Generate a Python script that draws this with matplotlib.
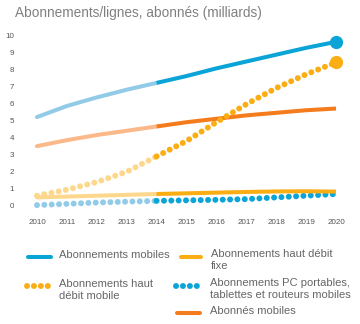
import matplotlib
matplotlib.use("Agg")
import matplotlib.pyplot as plt
from matplotlib.lines import Line2D

plt.rcParams['font.family'] = ['Liberation Sans', 'DejaVu Sans']

years = [2010, 2011, 2012, 2013, 2014, 2015, 2016, 2017, 2018, 2019, 2020]
mobile_subs = [5.2, 5.85, 6.35, 6.8, 7.2, 7.6, 8.05, 8.45, 8.85, 9.25, 9.6]
mobile_bb = [0.6, 0.95, 1.4, 2.0, 2.9, 3.8, 4.9, 5.95, 6.9, 7.7, 8.4]
subscribers = [3.5, 3.85, 4.15, 4.4, 4.65, 4.9, 5.1, 5.3, 5.45, 5.6, 5.7]
fixed_bb = [0.5, 0.55, 0.6, 0.65, 0.7, 0.74, 0.78, 0.82, 0.85, 0.86, 0.84]
pc_tablets = [0.05, 0.12, 0.2, 0.25, 0.3, 0.33, 0.36, 0.4, 0.5, 0.6, 0.7]

yticks = [0, 1, 2, 3, 4, 5, 6, 7, 8, 9, 10]
title = "Abonnements/lignes, abonnés (milliards)"
legend_labels = ["Abonnements mobiles", "Abonnements haut débit\nfixe",
                 "Abonnements haut\ndébit mobile",
                 "Abonnements PC portables,\ntablettes et routeurs mobiles",
                 "Abonnés mobiles"]

BLUE, BLUE_L = '#0aa4d6', '#92cbe8'
ORANGE, ORANGE_L = '#f47c1c', '#fbb98a'
YEL, YEL_L = '#fbad14', '#fdd88c'

W, H = 360, 324
fig = plt.figure(figsize=(W / 100, H / 100), dpi=100)
ax = fig.add_axes([31 / W, (H - 211.1) / H, 311 / W, 181.2 / H])
ax.set_xlim(2009.8, 2020.2)
ax.set_ylim(-0.3, 10.3)

split = years.index(2014)
solid_lw = 2.9
dot_lw = 4.3
dot_style = (0, (0.01, 1.22))

def seg(vals, c_l, c, dotted=False):
    kw = dict(solid_capstyle='round', dash_capstyle='round')
    if dotted:
        kw.update(linestyle=dot_style, lw=dot_lw)
    else:
        kw.update(lw=solid_lw)
    ax.plot(years[:split + 1], vals[:split + 1], color=c_l, **kw)
    kw2 = dict(kw)
    if not dotted:
        kw2['solid_capstyle'] = 'butt'
    ax.plot(years[split:], vals[split:], color=c, **kw2)

seg(pc_tablets, BLUE_L, BLUE, dotted=True)
seg(fixed_bb, YEL_L, YEL)
seg(subscribers, ORANGE_L, ORANGE)
seg(mobile_bb, YEL_L, YEL, dotted=True)
seg(mobile_subs, BLUE_L, BLUE)
ax.plot([years[-1]], [mobile_subs[-1]], 'o', color=BLUE, ms=8.5)
ax.plot([years[-1]], [mobile_bb[-1]], 'o', color=YEL, ms=8.5)

for s in ax.spines.values():
    s.set_visible(False)
ax.set_xticks(years)
ax.set_xticklabels([str(y) for y in years])
ax.set_yticks(yticks)
ax.tick_params(length=0, labelsize=5.8, colors='#555555', pad=6)
ax.tick_params(axis='y', pad=12)

fig.text(15 / W, 1 - 13 / H, title, fontsize=9.8, color='#808080', va='center', ha='left')

def px(x, y):
    return x / W, 1 - y / H

def handle(x0, x1, y, color, dotted=False):
    a, b = px(x0, y)
    c, _ = px(x1, y)
    if dotted:
        ln = Line2D([a, c], [b, b], transform=fig.transFigure, color=color,
                    lw=dot_lw, linestyle=(0, (0.01, 1.15)), dash_capstyle='round')
    else:
        ln = Line2D([a, c], [b, b], transform=fig.transFigure, color=color,
                    lw=solid_lw, solid_capstyle='round')
    fig.add_artist(ln)

def label(x, y, s):
    a, b = px(x, y)
    fig.text(a, b, s, fontsize=8, color='#666666', va='top', ha='left', linespacing=1.25)

handle(28, 51, 257, BLUE)
label(59, 250, legend_labels[0])
handle(181, 201, 257, YEL)
label(211, 249, legend_labels[1])
handle(27, 51, 286, YEL, dotted=True)
label(59, 279, legend_labels[2])
handle(176, 200, 286, BLUE, dotted=True)
label(210, 278, legend_labels[3])
handle(177, 200, 313, ORANGE)
label(210, 306, legend_labels[4])

fig.savefig('out.png', dpi=100)
